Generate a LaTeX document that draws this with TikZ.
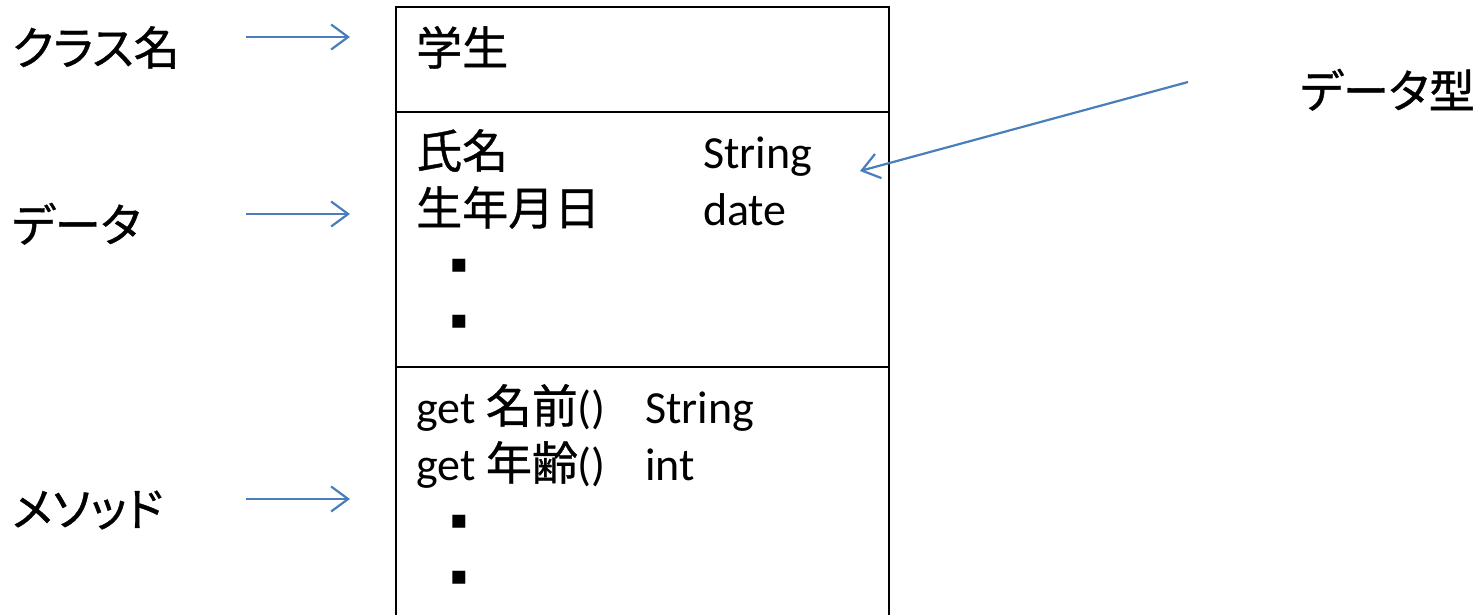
\documentclass[tikz,border=0pt]{standalone}
\usepackage{fontspec}
\setmainfont{Carlito}
\newfontfamily\jp[FakeBold=0.8]{Noto Sans CJK JP}
\newfontfamily\jpp[RawFeature=+palt,FakeBold=0.8]{Noto Sans CJK JP}
\newfontfamily\symf{DejaVu Sans}
\usetikzlibrary{arrows.meta}
\definecolor{arrowblue}{RGB}{74,126,187}
\tikzset{
  txt/.style={inner sep=0pt, anchor=base west, font=\fontsize{46}{55}\selectfont},
  jtxt/.style={inner sep=0pt, anchor=base west, font=\fontsize{46}{55}\selectfont\jpp},
  dotmark/.style={inner sep=0pt, anchor=base, font=\fontsize{26}{30}\selectfont\symf},
  boxline/.style={line width=2.6pt, black},
  ptr/.style={line width=2.2pt, arrowblue, -{Straight Barb[length=17pt,width=25pt,line width=2.2pt]}}
}
\begin{document}
\begin{tikzpicture}[x=1pt,y=-1pt]
\useasboundingbox (0,0) rectangle (1479,614);
\fill[white] (0,0) rectangle (1479,614);
\begin{scope}
\clip (0,0) rectangle (1479,614);
% class box
\draw[boxline] (396,640) -- (396,7) -- (889,7) -- (889,640);
\draw[boxline] (396,112) -- (889,112);
\draw[boxline] (396,367) -- (889,367);
\end{scope}
% box contents
\node[jtxt] (cls) at (416,65) {学生};
\node[jtxt] (f1) at (416,168) {氏名};
\node[txt] (t1) at (703,168) {String};
\node[jtxt] (f2) at (416,225) {生年月日};
\node[txt] (t2) at (703,225) {date};
\node[dotmark] (d1) at (459,272) {▪};
\node[dotmark] (d2) at (459,328) {▪};
\node[txt] (m1) at (416,423) {get {\jp 名前}()};
\node[txt] (r1) at (645,423) {String};
\node[txt] (m2) at (416,480) {get {\jp 年齢}()};
\node[txt] (r2) at (645,480) {int};
\node[dotmark] (d3) at (459,528) {▪};
\node[dotmark] (d4) at (459,584) {▪};
% left labels
\node[jtxt] (lcls) at (12,65) {クラス名};
\node[jtxt] (ldata) at (12,242) {データ};
\node[jtxt] (lmeth) at (12,526) {メソッド};
\node[jtxt] (ltype) at (1300,108) {データ型};
% arrows
\coordinate (a1s) at (246,37);  \coordinate (a1e) at (350,37);
\coordinate (a2s) at (246,214); \coordinate (a2e) at (350,214);
\coordinate (a3s) at (246,499); \coordinate (a3e) at (350,499);
\coordinate (a4s) at (1188,82); \coordinate (a4e) at (860,171);
\draw[ptr] (a1s) -- (a1e);
\draw[ptr] (a2s) -- (a2e);
\draw[ptr] (a3s) -- (a3e);
\draw[ptr] (a4s) -- (a4e);
\end{tikzpicture}
\end{document}
